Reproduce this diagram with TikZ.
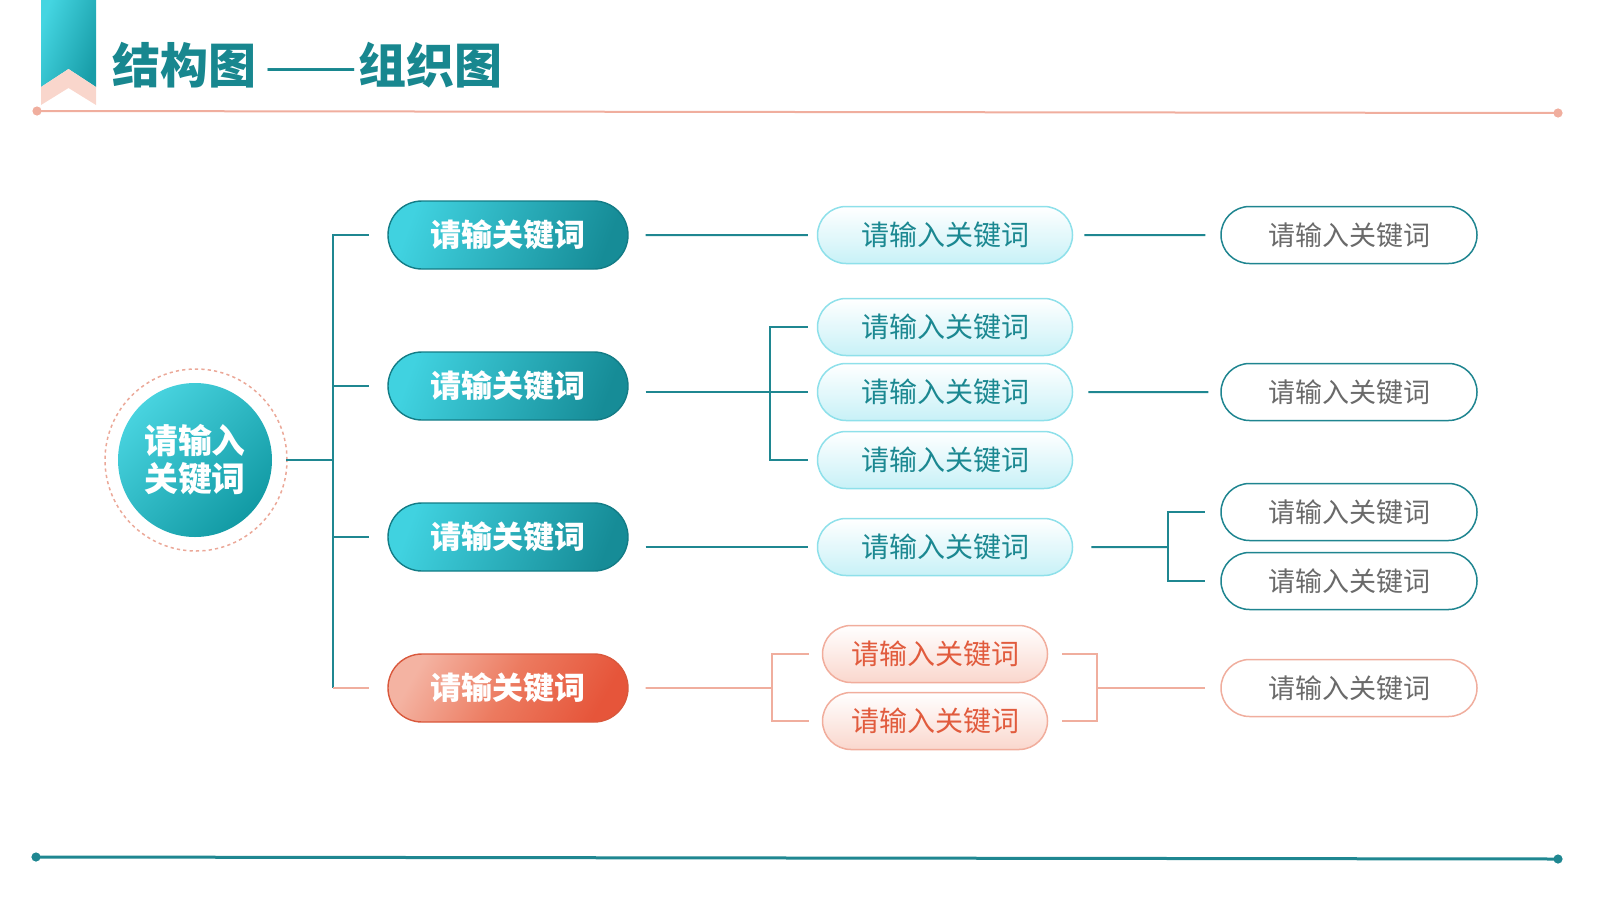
\documentclass[tikz,border=0pt]{standalone}
\usepackage{fontspec}
\usepackage{graphicx}
\setmainfont{Noto Sans CJK SC}
\usetikzlibrary{shapes.misc}
\definecolor{tealline}{HTML}{1F8791}
\definecolor{pinkline}{HTML}{F0AE9E}
\definecolor{titlec}{HTML}{18878F}
\definecolor{cyanL}{HTML}{40D2E0}
\definecolor{tealD}{HTML}{168C97}
\definecolor{lonebord}{HTML}{137C86}
\definecolor{pinkL}{HTML}{F4B3A2}
\definecolor{pinkM}{HTML}{EC7A5F}
\definecolor{pinkD}{HTML}{E6553A}
\definecolor{pinkbord}{HTML}{D9583C}
\definecolor{ltwobot}{HTML}{C8F1F7}
\definecolor{ltwobord}{HTML}{8EE0EA}
\definecolor{ltwotext}{HTML}{1B8891}
\definecolor{ptwobot}{HTML}{FAD7CD}
\definecolor{ptwobord}{HTML}{F1AD9C}
\definecolor{ptwotext}{HTML}{E15B3D}
\definecolor{lthreebord}{HTML}{1F8590}
\definecolor{grayt}{HTML}{6A6A6A}
\definecolor{ribL}{HTML}{44D5E1}
\definecolor{ribR}{HTML}{189DA8}
\definecolor{ribP}{HTML}{F9D6CC}
\definecolor{rootL}{HTML}{48D3DF}
\definecolor{rootD}{HTML}{129AA4}
\definecolor{ringc}{HTML}{EBA898}
\begin{document}
\begin{tikzpicture}[x=0.5pt,y=-0.5pt,
  tl/.style={draw=tealline,line width=1pt},
  pl/.style={draw=pinkline,line width=0.8pt},
  lone/.style={rounded rectangle,minimum width=120pt,minimum height=34pt,inner sep=0pt,
    draw=lonebord,line width=0.7pt,top color=cyanL,bottom color=tealD,shading angle=70,
    text=white,font=\bfseries\fontsize{15.5pt}{18pt}\selectfont},
  lonep/.style={lone,draw=pinkbord,top color=pinkL,bottom color=pinkD,middle color=pinkM,shading angle=60},
  ltwo/.style={rounded rectangle,minimum width=127.5pt,minimum height=28.5pt,inner sep=0pt,
    draw=ltwobord,line width=0.75pt,top color=white,bottom color=ltwobot,
    text=ltwotext,font=\fontsize{14pt}{17pt}\selectfont},
  ptwo/.style={ltwo,minimum width=112.5pt,draw=ptwobord,top color=white,bottom color=ptwobot,text=ptwotext},
  lthree/.style={rounded rectangle,minimum width=128pt,minimum height=28.5pt,inner sep=0pt,
    draw=lthreebord,line width=0.75pt,fill=white,text=grayt,font=\fontsize{13.5pt}{16pt}\selectfont},
  lthreep/.style={lthree,draw=pinkline}]
\useasboundingbox (0,0) rectangle (1600,900);
% header ribbon
\shade[left color=ribL,right color=ribR,shading angle=70] (41,0) -- (96,0) -- (96,87) -- (68.5,69) -- (41,87) -- cycle;
\fill[ribP] (41,87) -- (68.5,69) -- (96,87) -- (96,105) -- (68.5,88) -- (41,105) -- cycle;
\node[anchor=west,inner sep=0pt,text=titlec,font=\bfseries\fontsize{24pt}{28pt}\selectfont] (title) at (112,65) {结构图\kern4.5pt{\mdseries\scalebox{1.14}[1]{——}}\kern0.8pt 组织图};
% rules
\draw[pinkline,line width=1pt] (37,111) -- (1558,113);
\fill[pinkline] (37,111) circle[radius=2.3pt] (1558,113) circle[radius=2.3pt];
\draw[tealline,line width=1.5pt] (36,857) -- (1558,859);
\fill[tealline] (36,857) circle[radius=2.3pt] (1558,859) circle[radius=2.3pt];
% root
\draw[ringc,line width=0.75pt,dash pattern=on 1.6pt off 1.6pt] (196,460) circle[radius=45.5pt];
\node[circle,minimum size=77pt,inner sep=0pt,top color=rootL,bottom color=rootD,shading angle=45,
  text=white,align=center,font=\bfseries\fontsize{16.9pt}{19pt}\selectfont] (root) at (195,460) {请输入\\关键词};
% level 1
\node[lone] (a1) at (508,235) {请输关键词};
\node[lone] (a2) at (508,386) {请输关键词};
\node[lone] (a3) at (508,537) {请输关键词};
\node[lonep] (a4) at (508,688) {请输关键词};
% level 2
\node[ltwo] (b1) at (945,235) {请输入关键词};
\node[ltwo] (b2) at (945,327) {请输入关键词};
\node[ltwo] (b3) at (945,392) {请输入关键词};
\node[ltwo] (b4) at (945,460) {请输入关键词};
\node[ltwo] (b5) at (945,547) {请输入关键词};
\node[ptwo] (p1) at (935,654) {请输入关键词};
\node[ptwo] (p2) at (935,721) {请输入关键词};
% level 3
\node[lthree] (c1) at (1349,235) {请输入关键词};
\node[lthree] (c2) at (1349,392) {请输入关键词};
\node[lthree] (c3) at (1349,512) {请输入关键词};
\node[lthree] (c4) at (1349,581) {请输入关键词};
\node[lthreep] (c5) at (1349,688) {请输入关键词};
% junction points
\coordinate (tr) at (333,460);
\coordinate (k2) at (770,392);
\coordinate (k3) at (1168,547);
\coordinate (k4) at (772,688);
\coordinate (k5) at (1097,688);
% root to trunk
\draw[tl,shorten <=7pt] (root) -- (tr);
\draw[tl,shorten >=9pt] (tr) |- (a1);
\draw[tl,shorten >=9pt] (tr) |- (a2);
\draw[tl,shorten >=9pt] (tr) |- (a3);
\draw[tl] (tr) -- (tr |- a4);
\draw[pl,shorten >=9pt] (tr |- a4) -- (a4);
% level 1 to level 2
\draw[tl,shorten <=8.5pt,shorten >=4.5pt] (a1) -- (b1);
\draw[tl,shorten <=8.5pt,shorten >=4.5pt] (a2.east |- b3) -- (b3);
\draw[tl,shorten >=4.5pt] (k2) |- (b2);
\draw[tl,shorten >=4.5pt] (k2) |- (b4);
\draw[tl,shorten <=8.5pt,shorten >=4.5pt] (a3.east |- b5) -- (b5);
\draw[pl,shorten <=8.5pt] (a4) -- (k4);
\draw[pl,shorten >=6.5pt] (k4) |- (p1);
\draw[pl,shorten >=6.5pt] (k4) |- (p2);
% level 2 to level 3
\draw[tl,shorten <=5.5pt,shorten >=7.5pt] (b1) -- (c1);
\draw[tl,shorten <=7.5pt,shorten >=6pt] (b3) -- (c2);
\draw[tl,shorten <=9pt] (b5) -- (k3);
\draw[tl,shorten >=7.5pt] (k3) |- (c3);
\draw[tl,shorten >=7.5pt] (k3) |- (c4);
\draw[pl,shorten <=7pt] (p1) -| (k5);
\draw[pl,shorten <=7pt] (p2) -| (k5);
\draw[pl,shorten >=7.5pt] (k5) -- (c5);
\end{tikzpicture}
\end{document}
